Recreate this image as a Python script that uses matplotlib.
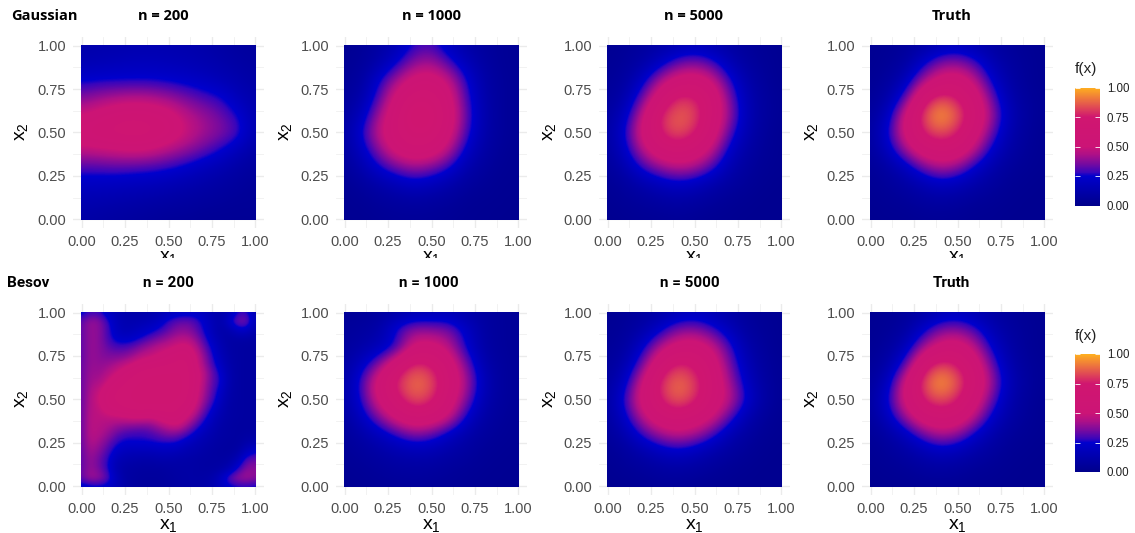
#!/usr/bin/env python3
import numpy as np
import matplotlib
matplotlib.use('Agg')
import matplotlib.pyplot as plt
from matplotlib.colors import LinearSegmentedColormap
from matplotlib.patches import Rectangle
from matplotlib.transforms import Bbox

# rows run from x2 = 1.0 (top) to x2 = 0.0, columns from x1 = 0.0 to x1 = 1.0
gauss_200 = [
    [.12, .13, .13, .14, .14, .14, .13, .12, .10, .08, .07],
    [.15, .16, .17, .18, .18, .17, .16, .14, .12, .10, .08],
    [.24, .25, .25, .25, .25, .24, .22, .20, .16, .13, .10],
    [.36, .40, .43, .45, .44, .40, .35, .30, .27, .17, .12],
    [.50, .55, .60, .62, .60, .56, .46, .40, .34, .26, .13],
    [.60, .64, .66, .68, .66, .60, .50, .42, .37, .31, .13],
    [.46, .48, .50, .52, .50, .44, .39, .33, .26, .17, .10],
    [.30, .30, .31, .30, .29, .27, .23, .18, .14, .10, .07],
    [.20, .20, .19, .18, .17, .15, .13, .11, .09, .07, .05],
    [.14, .13, .12, .11, .10, .09, .08, .07, .06, .05, .05],
    [.10, .09, .08, .07, .06, .05, .05, .04, .04, .04, .04],
]
gauss_1000 = [
    [.03, .05, .09, .15, .27, .30, .18, .11, .07, .05, .04],
    [.04, .06, .12, .24, .38, .42, .30, .17, .09, .05, .04],
    [.05, .08, .25, .42, .56, .58, .48, .26, .11, .06, .04],
    [.06, .12, .31, .56, .68, .68, .56, .30, .12, .06, .04],
    [.08, .18, .42, .62, .77, .73, .60, .33, .13, .06, .04],
    [.09, .26, .48, .64, .70, .70, .56, .30, .12, .06, .04],
    [.08, .20, .38, .56, .63, .60, .45, .22, .10, .05, .03],
    [.06, .13, .25, .34, .40, .36, .27, .13, .07, .04, .03],
    [.04, .07, .11, .16, .20, .17, .12, .07, .05, .03, .03],
    [.03, .04, .06, .07, .08, .07, .06, .04, .03, .03, .02],
    [.03, .03, .04, .05, .05, .05, .04, .03, .03, .02, .02],
]
gauss_5000 = [
    [.03, .05, .07, .10, .13, .16, .13, .09, .06, .04, .03],
    [.04, .06, .10, .19, .32, .36, .30, .16, .08, .05, .03],
    [.05, .08, .20, .42, .56, .60, .50, .28, .12, .06, .03],
    [.06, .12, .33, .60, .80, .78, .64, .36, .15, .07, .04],
    [.08, .19, .47, .78, .87, .84, .64, .40, .16, .07, .04],
    [.09, .25, .54, .76, .86, .78, .60, .32, .14, .06, .03],
    [.08, .21, .44, .62, .68, .62, .47, .22, .10, .05, .03],
    [.06, .13, .28, .38, .45, .42, .30, .14, .07, .04, .03],
    [.04, .07, .12, .17, .21, .18, .12, .08, .05, .03, .02],
    [.03, .05, .06, .08, .09, .08, .06, .04, .03, .02, .02],
    [.02, .03, .04, .04, .05, .04, .03, .03, .02, .02, .02],
]
truth = [
    [.03, .04, .06, .09, .14, .17, .13, .09, .06, .04, .03],
    [.03, .05, .08, .22, .36, .38, .30, .15, .08, .05, .03],
    [.04, .07, .16, .40, .56, .60, .46, .23, .10, .05, .03],
    [.05, .11, .30, .68, .84, .76, .60, .33, .13, .06, .04],
    [.07, .18, .52, .83, .98, .87, .66, .40, .16, .07, .04],
    [.08, .25, .54, .77, .86, .78, .58, .33, .13, .06, .03],
    [.07, .19, .40, .60, .66, .63, .45, .22, .10, .05, .03],
    [.05, .09, .18, .33, .43, .38, .23, .12, .06, .04, .03],
    [.04, .06, .09, .14, .19, .16, .11, .07, .04, .03, .02],
    [.03, .04, .05, .07, .08, .07, .05, .04, .03, .02, .02],
    [.02, .03, .03, .04, .04, .04, .03, .03, .02, .02, .02],
]
# this one has small corner features, so it is read on a 0.05 step
besov_200 = [
    [.22, .28, .28, .20, .15, .12, .11, .11, .12, .14, .17, .20, .21, .21, .18, .14, .11, .16, .26, .28, .14],
    [.32, .40, .38, .28, .18, .14, .14, .15, .17, .21, .28, .32, .33, .31, .24, .17, .12, .24, .36, .36, .15],
    [.32, .40, .38, .30, .19, .15, .17, .20, .23, .27, .32, .37, .38, .34, .26, .17, .11, .13, .22, .22, .12],
    [.32, .40, .38, .30, .23, .21, .23, .27, .32, .36, .40, .44, .45, .40, .30, .20, .13, .10, .10, .10, .09],
    [.32, .40, .38, .33, .30, .30, .33, .38, .42, .46, .48, .52, .54, .47, .35, .24, .15, .10, .09, .08, .08],
    [.32, .40, .38, .36, .36, .37, .41, .46, .48, .52, .56, .60, .62, .52, .40, .27, .17, .11, .09, .08, .08],
    [.33, .40, .39, .40, .43, .47, .52, .57, .60, .62, .63, .65, .66, .54, .42, .30, .20, .12, .09, .08, .08],
    [.33, .41, .40, .44, .50, .57, .62, .66, .66, .67, .67, .67, .66, .57, .46, .34, .24, .13, .09, .08, .08],
    [.33, .42, .42, .50, .58, .62, .66, .67, .68, .68, .68, .68, .66, .57, .45, .33, .26, .13, .09, .08, .08],
    [.33, .43, .48, .57, .63, .66, .67, .68, .68, .68, .68, .68, .66, .56, .43, .32, .22, .12, .09, .08, .08],
    [.33, .44, .50, .60, .64, .66, .67, .68, .68, .68, .68, .67, .64, .54, .41, .30, .19, .11, .09, .08, .08],
    [.33, .45, .47, .55, .60, .63, .66, .66, .66, .66, .66, .64, .58, .50, .36, .25, .16, .10, .09, .08, .08],
    [.33, .46, .46, .47, .48, .50, .52, .52, .50, .55, .60, .60, .52, .42, .30, .20, .13, .10, .09, .08, .08],
    [.33, .46, .45, .43, .40, .38, .37, .36, .37, .42, .47, .50, .42, .32, .23, .16, .11, .09, .08, .08, .08],
    [.33, .46, .44, .40, .33, .29, .28, .28, .30, .33, .36, .35, .30, .23, .17, .13, .10, .09, .08, .09, .09],
    [.33, .44, .41, .34, .27, .24, .25, .25, .25, .26, .26, .25, .20, .16, .13, .11, .09, .08, .08, .12, .14],
    [.32, .42, .37, .30, .22, .18, .17, .17, .17, .18, .18, .17, .14, .13, .11, .09, .08, .08, .10, .20, .25],
    [.32, .40, .34, .27, .16, .13, .12, .11, .11, .12, .12, .11, .11, .10, .09, .09, .09, .10, .17, .32, .34],
    [.32, .40, .35, .27, .14, .10, .09, .08, .08, .08, .09, .10, .10, .10, .09, .09, .10, .15, .27, .38, .38],
    [.33, .42, .40, .32, .18, .10, .08, .07, .07, .07, .08, .09, .10, .10, .10, .12, .20, .33, .40, .42, .38],
    [.20, .22, .23, .22, .17, .11, .08, .07, .07, .07, .08, .09, .10, .10, .11, .13, .19, .23, .25, .26, .24],
]
besov_1000 = [
    [.05, .05, .07, .09, .12, .13, .14, .11, .08, .06, .05],
    [.06, .08, .11, .29, .40, .38, .36, .22, .09, .06, .05],
    [.07, .11, .16, .25, .54, .56, .46, .24, .10, .06, .05],
    [.09, .20, .38, .64, .82, .76, .60, .36, .13, .07, .05],
    [.10, .30, .58, .80, .90, .86, .64, .43, .17, .07, .05],
    [.11, .27, .54, .72, .86, .80, .60, .37, .14, .07, .05],
    [.08, .20, .37, .55, .66, .62, .50, .24, .10, .06, .04],
    [.06, .11, .18, .27, .36, .32, .20, .12, .07, .05, .04],
    [.05, .07, .10, .13, .15, .14, .11, .08, .05, .04, .03],
    [.04, .05, .06, .08, .08, .08, .06, .05, .04, .03, .03],
    [.03, .04, .05, .05, .06, .05, .05, .04, .03, .03, .03],
]
besov_5000 = [
    [.03, .05, .07, .10, .14, .17, .14, .10, .06, .04, .03],
    [.04, .06, .11, .22, .36, .38, .30, .18, .08, .05, .03],
    [.05, .08, .22, .44, .57, .60, .50, .30, .12, .06, .03],
    [.06, .13, .34, .64, .80, .74, .60, .36, .16, .07, .04],
    [.08, .20, .50, .79, .90, .83, .64, .42, .20, .08, .04],
    [.09, .28, .56, .76, .88, .80, .62, .47, .25, .09, .04],
    [.08, .22, .45, .62, .68, .62, .52, .32, .14, .06, .03],
    [.06, .13, .28, .40, .46, .42, .30, .15, .08, .04, .03],
    [.04, .07, .12, .18, .22, .18, .12, .08, .05, .03, .02],
    [.03, .05, .06, .08, .09, .08, .06, .04, .03, .02, .02],
    [.02, .03, .04, .05, .05, .04, .03, .03, .02, .02, .02],
]

col_titles = ['n = 200', 'n = 1000', 'n = 5000', 'Truth']
row_names = ['Gaussian', 'Besov']
tick_vals = [0, 0.25, 0.5, 0.75, 1]
tick_labels = ['0.00', '0.25', '0.50', '0.75', '1.00']
minor_vals = [0.125, 0.375, 0.625, 0.875]

W, H = 1135, 533
plt.rcParams['font.family'] = ['Liberation Sans', 'DejaVu Sans']
plt.rcParams['mathtext.default'] = 'regular'

cmap = LinearSegmentedColormap.from_list('fx', [
    (0.0, '#00008B'), (0.25, '#0000CD'), (0.28, '#3805BC'), (0.35, '#750AA0'),
    (0.43, '#AD1088'), (0.5, '#CC1476'), (0.75, '#D01670'), (1.0, '#FFB01E')], N=512)

fig = plt.figure(figsize=(W / 100, H / 100), dpi=100)


def px_axes(x0, y0, x1, y1):
    # pixel box, y measured from the top of the image
    return fig.add_axes([x0 / W, 1 - y1 / H, (x1 - x0) / W, (y1 - y0) / H])


def ftext(x, y, s, **kw):
    return fig.text(x / W, 1 - y / H, s, **kw)


def draw_panel(data, left, y_one, y_zero):
    span_x = 173.6
    pad_x = span_x * 0.05
    pad_y = (y_zero - y_one) * 0.05
    ax = px_axes(left - pad_x, y_one - pad_y, left + span_x + pad_x, y_zero + pad_y)
    arr = np.array(data)
    nrow, ncol = arr.shape
    dx, dy = 0.5 / (ncol - 1), 0.5 / (nrow - 1)
    im = ax.imshow(arr, cmap=cmap, vmin=0, vmax=1, origin='upper', aspect='auto',
                   interpolation='bicubic', interpolation_stage='data', zorder=2,
                   extent=(-dx, 1 + dx, -dy, 1 + dy))
    im.set_clip_path(Rectangle((-0.003, -0.003), 1.006, 1.006, transform=ax.transData))
    ax.set_xlim(-0.05, 1.05)
    ax.set_ylim(-0.05, 1.05)
    ax.set_xticks(tick_vals, tick_labels)
    ax.set_yticks(tick_vals, tick_labels)
    ax.set_xticks(minor_vals, minor=True)
    ax.set_yticks(minor_vals, minor=True)
    ax.grid(True, which='major', color='#EBEBEB', lw=1.0, zorder=0)
    ax.grid(True, which='minor', color='#F0F0F0', lw=0.6, zorder=0)
    ax.tick_params(which='both', length=0)
    ax.tick_params(axis='x', labelsize=10.5, labelcolor='#4D4D4D', pad=5)
    ax.tick_params(axis='y', labelsize=10.5, labelcolor='#4D4D4D', pad=5)
    for s in ax.spines.values():
        s.set_visible(False)
    return im


def draw_legend(im, y_top, y_bot):
    cax = px_axes(1075, y_top, 1100, y_bot)
    cbar = fig.colorbar(im, cax=cax, ticks=tick_vals)
    cbar.ax.set_yticklabels(tick_labels)
    cbar.outline.set_visible(False)
    cbar.ax.tick_params(axis='y', which='both', direction='in', left=True, right=True,
                        color='white', length=3.5, width=0.6, labelsize=8.3,
                        labelcolor='#222222', pad=5)
    ftext(1075, y_top - 18, 'f(x)', fontsize=11, color='#222222', va='center', ha='left')


lefts = [81.7, 344.7, 607.7, 870.7]
ylab_x = [22, 286, 549, 812]

# top row
top_sets = [gauss_200, gauss_1000, gauss_5000, truth]
title_x = [163, 431.5, 693, 952]
for i, d in enumerate(top_sets):
    im = draw_panel(d, lefts[i], 45.7, 219.2)
    ftext(title_x[i], 16, col_titles[i], family=['Open Sans', 'DejaVu Sans'], weight='bold',
          fontsize=10.5, color='black', ha='center', va='center')
    ftext(ylab_x[i], 132, r'$x_2$', fontsize=14, rotation=90, ha='center', va='center', color='black')
    # x label is cut by the edge of the original plot area
    t = ftext(lefts[i] + 86.5, 258, r'$x_1$', fontsize=14, ha='center', va='center', color='black')
    t.set_clip_box(Bbox([[0, H - 258], [W, H]]))
    t.set_clip_on(True)
draw_legend(im, 87.5, 205.5)
ftext(11, 16, row_names[0], family=['Open Sans', 'DejaVu Sans'], weight='bold', fontsize=10.5,
      color='black', ha='left', va='center')

# bottom row
bot_sets = [besov_200, besov_1000, besov_5000, truth]
title_x2 = [168.5, 429, 690, 951]
for i, d in enumerate(bot_sets):
    im = draw_panel(d, lefts[i], 312.5, 486)
    ftext(title_x2[i], 283, col_titles[i], family=['Roboto', 'DejaVu Sans'], weight='bold',
          fontsize=11, color='black', ha='center', va='center')
    ftext(ylab_x[i], 399, r'$x_2$', fontsize=14, rotation=90, ha='center', va='center', color='black')
    ftext(lefts[i] + 86.5, 525, r'$x_1$', fontsize=14, ha='center', va='center', color='black')
draw_legend(im, 354, 472)
ftext(7, 283, row_names[1], family=['Roboto', 'DejaVu Sans'], weight='bold', fontsize=11,
      color='black', ha='left', va='center')

fig.savefig('out.png', dpi=100)
